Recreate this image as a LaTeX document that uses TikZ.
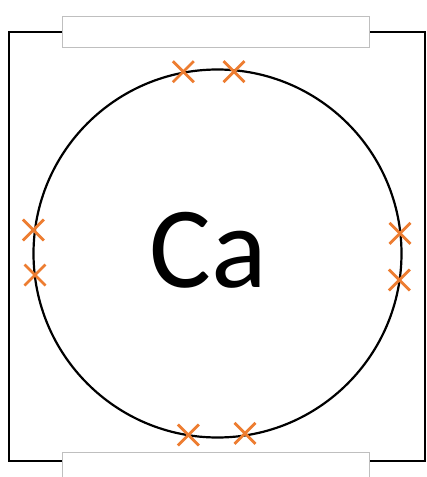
\documentclass[tikz,border=0pt]{standalone}
\usepackage{fontspec}
\setmainfont{Carlito}
\definecolor{xorange}{HTML}{ED7D31}
\definecolor{boxgray}{HTML}{BFBFBF}
\begin{document}
\begin{tikzpicture}[x=1pt,y=-1pt,
  shell/.style={draw=black,line width=2.2pt},
  frame/.style={draw=black,line width=2.6pt},
  cover/.style={fill=white,draw=boxgray,line width=1pt},
  xmark/.style={draw=xorange,line width=2.8pt}]
\useasboundingbox (0,0) rectangle (427,477);
\draw[frame] (9,32) rectangle (425,461);
\draw[cover] (62.5,16.5) rectangle (369,47);
\draw[cover] (62.5,452) rectangle (369,480);
\draw[shell] (217.5,253.5) circle (184);
\node[anchor=base,inner sep=0pt,font=\fontsize{116}{116}\selectfont] (ca) at (208.5,287.5) {Ca};
\foreach \x/\y in {183.3/71.7, 234/71.7, 33.3/230, 35/275, 400/233.3, 399.3/280, 188.3/435, 245/433.3}{
  \draw[xmark] (\x-10.5,\y-10.5) -- (\x+10.5,\y+10.5);
  \draw[xmark] (\x-10.5,\y+10.5) -- (\x+10.5,\y-10.5);
}
\end{tikzpicture}
\end{document}
